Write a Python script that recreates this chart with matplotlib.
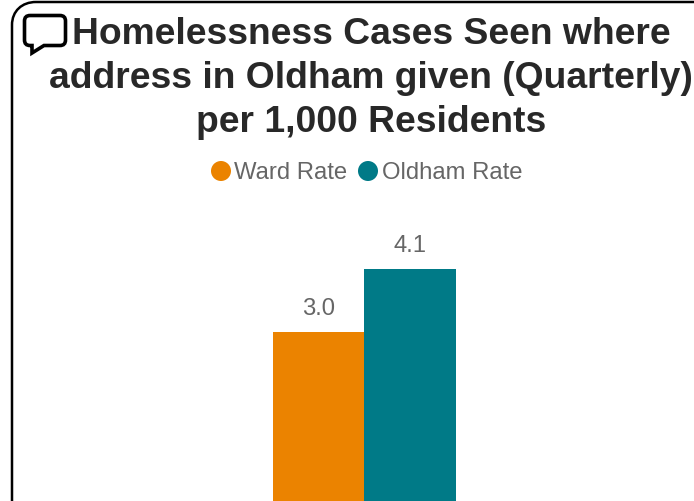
import matplotlib
matplotlib.use("Agg")
import matplotlib.pyplot as plt
from matplotlib.patches import PathPatch, Circle
from matplotlib.path import Path

series = ["Ward Rate", "Oldham Rate"]
values = [3.0, 4.1]
labels = ["3.0", "4.1"]
colors = ["#EB8300", "#007A87"]
title_lines = ["Homelessness Cases Seen where",
               "address in Oldham given (Quarterly)",
               "per 1,000 Residents"]

W, H = 694, 502
plt.rcParams["font.family"] = ["Liberation Sans", "DejaVu Sans"]
fig = plt.figure(figsize=(W / 100, H / 100), dpi=100)

# pixel-coordinate overlay
ov = fig.add_axes([0, 0, 1, 1], zorder=3)
ov.set_xlim(0, W); ov.set_ylim(H, 0); ov.axis("off")

# plot axes: baseline at y=505 px, 57.3 px per unit, 91.5 px per bar
base_px = 505
ax = fig.add_axes([0, (H - base_px) / H, 1, base_px / H], zorder=1)
ax.set_ylim(0, base_px / 57.3)
centre = 364.5
ax.set_xlim(-centre / 91.5, (W - centre) / 91.5)
ax.axis("off")
for i, (v, c, l) in enumerate(zip(values, colors, labels)):
    x = i - 0.5
    ax.bar(x, v, width=1.0, color=c, linewidth=0)
    ax.annotate(l, (x, v), xytext=(0, 13), textcoords="offset pixels",
                ha="center", va="bottom", fontsize=17.2, color="#666666")

# rounded frame
M, L, C = Path.MOVETO, Path.LINETO, Path.CURVE4
frame = Path([(12, H + 5), (12, 26), (12, 12), (22, 3), (36, 3), (W + 5, 3)],
             [M, L, C, C, C, L])
ov.add_patch(PathPatch(frame, fc="none", ec="black", lw=1.8))

# speech bubble icon
verts = [(30, 16.5), (60, 16.5), (65.5, 16.5), (65.5, 22), (65.5, 41),
         (65.5, 46.5), (60, 46.5), (44, 46.5), (32, 54), (32, 46.5),
         (30, 46.5), (24.5, 46.5), (24.5, 41), (24.5, 22), (24.5, 16.5),
         (30, 16.5), (30, 16.5)]
codes = [M, L, Path.CURVE3, Path.CURVE3, L, Path.CURVE3, Path.CURVE3, L, L, L,
         L, Path.CURVE3, Path.CURVE3, L, Path.CURVE3, Path.CURVE3, Path.CLOSEPOLY]
ov.add_patch(PathPatch(Path(verts, codes), fc="white", ec="black", lw=2.6,
                       joinstyle="miter"))

# title
for y, t in zip([34, 78, 122], title_lines):
    ov.text(371, y, t, ha="center", va="center", fontsize=26.85,
            fontweight="bold", color="#282828")

# legend
for cx, tx, c, s in zip([221, 368], [234, 382], colors, series):
    ov.add_patch(Circle((cx, 172), 10, fc=c, ec="none"))
    ov.text(tx, 173.5, s, ha="left", va="center", fontsize=17.2, color="#666666")

fig.savefig("out.png", dpi=100, facecolor="white")
